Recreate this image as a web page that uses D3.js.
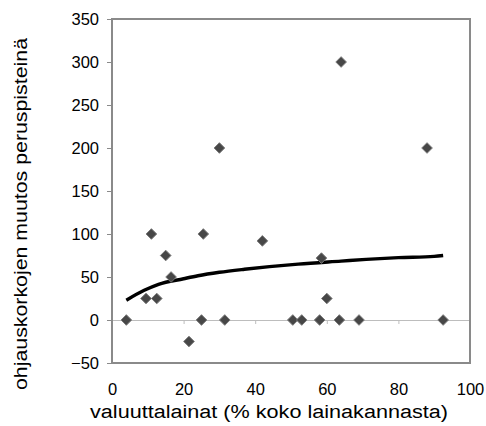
<!DOCTYPE html>
<head>
  <meta charset="utf-8">
  <script src="https://d3js.org/d3.v7.min.js"></script>
  <style>
    body { margin: 0; background: #fff; }
    text { font-family: "Liberation Sans", Arial, sans-serif; fill: #000; }
  </style>
</head>
<body>
  <svg width="486" height="426"></svg>
  <script>

  // Scatter data
  var shareX = [4, 9.5, 12.5, 11, 15, 16.5, 30, 25.5, 42, 58.5, 88, 64, 21.5, 25, 31.5, 50.5, 53, 58, 60, 63.5, 69, 92.5];
  var changeY = [0, 25, 25, 100, 75, 50, 200, 100, 92, 72, 200, 300, -25, 0, 0, 0, 0, 0, 25, 0, 0, 0];

  // Trend line as drawn in the picture
  var trendX = [4, 9, 13, 20, 24, 30, 37, 44, 52, 64, 71, 80, 90, 92.5];
  var trendY = [23, 34.5, 41.5, 48, 51.5, 55.5, 59, 62, 65, 68.5, 70.5, 72.5, 74, 75];

  var xTicks = [0, 20, 40, 60, 80, 100];
  var yTicks = [-50, 0, 50, 100, 150, 200, 250, 300, 350];

  var xTitle = 'valuuttalainat (% koko lainakannasta)';
  var yTitle = 'ohjauskorkojen muutos peruspisteinä';

  var svg = d3.select('svg');
  var margin = {top: 19, right: 16, bottom: 63, left: 112};
  var width = +svg.attr('width') - margin.left - margin.right;
  var height = +svg.attr('height') - margin.top - margin.bottom;

  var x = d3.scaleLinear().domain([0, 100]).range([0, width]);
  var y = d3.scaleLinear().domain([-50, 350]).range([height, 0]);

  var g = svg.append('g')
    .attr('transform', 'translate(' + margin.left + ',' + margin.top + ')');

  // zero line with small ticks (x axis crosses at 0)
  var xAxis = d3.axisBottom(x).tickValues(xTicks.slice(1, -1)).tickSize(4).tickFormat('');
  var xa = g.append('g')
    .attr('transform', 'translate(0,' + y(0) + ')')
    .call(xAxis);
  xa.select('.domain').attr('stroke', '#bdbdbd');
  xa.selectAll('.tick line').attr('stroke', '#bdbdbd');

  // plot frame
  g.append('rect')
    .attr('x', 0).attr('y', 0)
    .attr('width', width).attr('height', height)
    .attr('fill', 'none')
    .attr('stroke', '#8a8a8a')
    .attr('stroke-width', 2);

  // y axis ticks + labels
  var yAxis = d3.axisLeft(y).tickValues(yTicks).tickSize(5).tickPadding(8);
  var ya = g.append('g').call(yAxis);
  ya.select('.domain').remove();
  ya.selectAll('.tick line').attr('stroke', '#8a8a8a');
  ya.selectAll('.tick text').style('font-size', '16.5px').attr('fill', '#000');

  // x tick labels
  var xl = g.append('g')
    .attr('transform', 'translate(0,' + height + ')')
    .call(d3.axisBottom(x).tickValues(xTicks).tickSize(0).tickPadding(20));
  xl.select('.domain').remove();
  xl.selectAll('.tick text').style('font-size', '16.5px').attr('fill', '#000');

  // trend line
  var line = d3.line()
    .curve(d3.curveMonotoneX)
    .x(function(d) { return x(d[0]); })
    .y(function(d) { return y(d[1]); });

  g.append('path')
    .datum(d3.zip(trendX, trendY))
    .attr('fill', 'none')
    .attr('stroke', '#000')
    .attr('stroke-width', 3.4)
    .attr('stroke-linejoin', 'round')
    .attr('d', line);

  // diamond markers
  var diamond = d3.symbol().type(d3.symbolDiamond2).size(72);
  g.selectAll('.pt')
    .data(d3.zip(shareX, changeY))
    .enter().append('path')
    .attr('class', 'pt')
    .attr('transform', function(d) { return 'translate(' + x(d[0]) + ',' + y(d[1]) + ')'; })
    .attr('d', diamond)
    .attr('fill', '#474747')
    .attr('stroke', '#7a7a7a')
    .attr('stroke-width', 1);

  // axis titles
  svg.append('text')
    .attr('x', 269)
    .attr('y', 418)
    .attr('text-anchor', 'middle')
    .attr('textLength', 358)
    .attr('lengthAdjust', 'spacingAndGlyphs')
    .style('font-size', '18px')
    .text(xTitle);

  svg.append('text')
    .attr('transform', 'translate(27,214) rotate(-90)')
    .attr('text-anchor', 'middle')
    .attr('textLength', 352)
    .attr('lengthAdjust', 'spacingAndGlyphs')
    .style('font-size', '18px')
    .text(yTitle);

  </script>
</body>
